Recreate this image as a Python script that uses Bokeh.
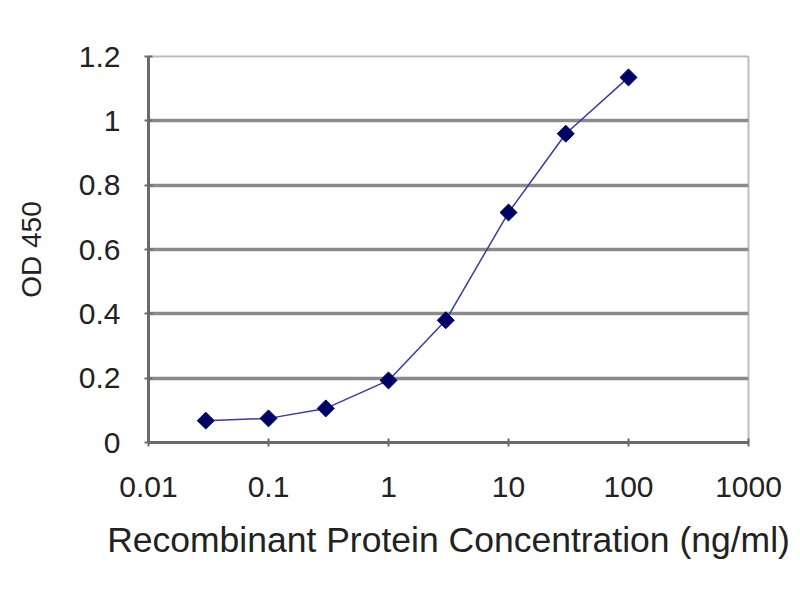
import math

from bokeh.plotting import figure
from bokeh.models import FixedTicker, Range1d
from bokeh.embed import file_html
from bokeh.resources import INLINE

FONT = "Liberation Sans"
TEXT_COLOUR = "#222222"
GRID_COLOUR = "#8a8a8a"
MARKER_COLOUR = "#000066"
LINE_COLOUR = "#3a3aa0"

concentration = [0.03, 0.1, 0.3, 1, 3, 10, 30, 100]
od450 = [0.068, 0.075, 0.106, 0.193, 0.38, 0.715, 0.96, 1.135]

x_ticks = [0.01, 0.1, 1, 10, 100, 1000]
x_labels = ["0.01", "0.1", "1", "10", "100", "1000"]
y_ticks = [0, 0.2, 0.4, 0.6, 0.8, 1.0, 1.2]
y_labels = ["0", "0.2", "0.4", "0.6", "0.8", "1", "1.2"]

p = figure(
    x_axis_type="log",
    x_range=Range1d(0.01, 1000),
    y_range=Range1d(0, 1.2),
    toolbar_location=None,
    tools="",
    output_backend="svg",
    min_border_left=148,
    min_border_right=44,
    min_border_top=56,
    min_border_bottom=140,
)
p.frame_width = 600
p.frame_height = 386
p.background_fill_color = "white"
p.border_fill_color = "white"
p.outline_line_color = "#bdbdbd"
p.outline_line_width = 2

p.xgrid.visible = False
p.ygrid.ticker = FixedTicker(ticks=y_ticks[1:])
p.ygrid.grid_line_color = GRID_COLOUR
p.ygrid.grid_line_width = 3.5

p.xaxis.ticker = FixedTicker(ticks=x_ticks)
p.xaxis.major_label_overrides = dict(zip(x_ticks, x_labels))
p.yaxis.ticker = FixedTicker(ticks=y_ticks)
p.yaxis.major_label_overrides = dict(zip(y_ticks, y_labels))

for ax in (p.xaxis, p.yaxis):
    ax.axis_line_color = "#6a6a6a"
    ax.axis_line_width = 3
    ax.major_tick_line_color = "#6a6a6a"
    ax.major_tick_line_width = 2
    ax.major_tick_in = 4
    ax.major_tick_out = 4
    ax.minor_tick_line_color = None
    ax.major_label_text_font = FONT
    ax.major_label_text_font_size = "30px"
    ax.major_label_text_color = TEXT_COLOUR
    ax.axis_label_text_font = FONT
    ax.axis_label_text_font_style = "normal"
    ax.axis_label_text_color = TEXT_COLOUR

p.xaxis.major_label_standoff = 30
p.yaxis.major_label_standoff = 24
p.xaxis.axis_label = "Recombinant Protein Concentration (ng/ml)"
p.xaxis.axis_label_text_font_size = "35.5px"
p.xaxis.axis_label_standoff = 20
p.yaxis.axis_label = "OD 450"
p.yaxis.axis_label_text_font_size = "28px"
p.yaxis.axis_label_standoff = 29

p.line(concentration, od450, line_color=LINE_COLOUR, line_width=1.5)
p.scatter(
    concentration,
    od450,
    marker="square",
    angle=math.pi / 4,
    size=12,
    fill_color=MARKER_COLOUR,
    line_color=MARKER_COLOUR,
)

open("out.html", "w").write(file_html(p, INLINE))
